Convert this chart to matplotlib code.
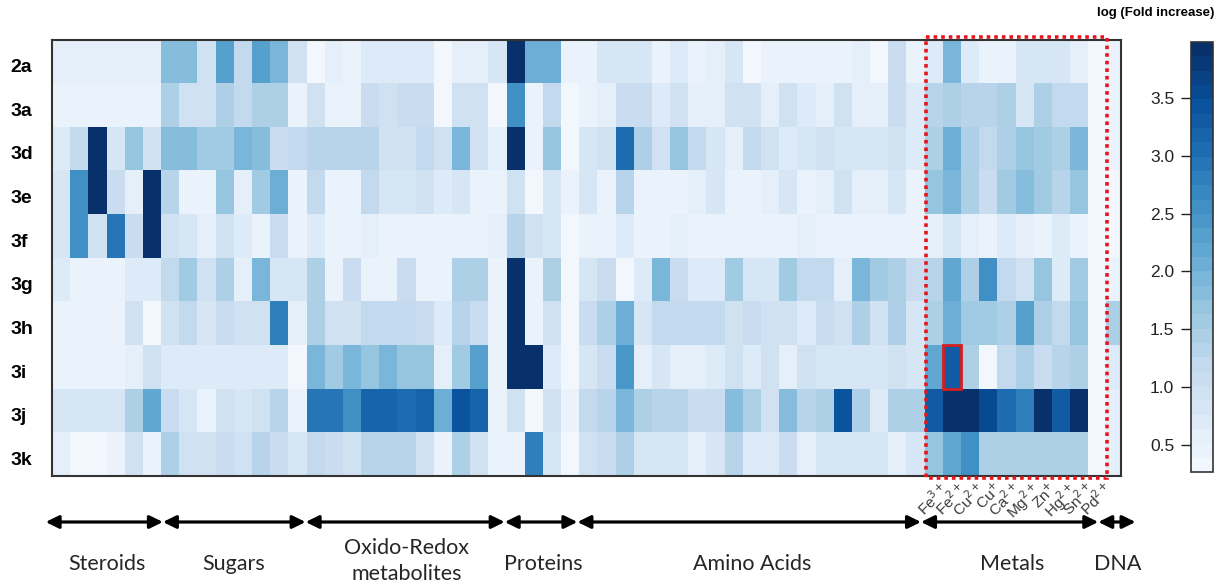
import numpy as np
import matplotlib
matplotlib.use("Agg")
import matplotlib.pyplot as plt
from matplotlib.colors import ListedColormap
from matplotlib.patches import Rectangle, FancyArrowPatch
import matplotlib.transforms as mtransforms

# ---------------- data ----------------
row_labels = ["2a", "3a", "3d", "3e", "3f", "3g", "3h", "3i", "3j", "3k"]

groups = ["Steroids", "Sugars", "Oxido-Redox\nmetabolites", "Proteins",
          "Amino Acids", "Metals", "DNA"]
group_sizes = [6, 8, 11, 4, 19, 10, 1]

metal_labels = [r"Fe$^{3+}$", r"Fe$^{2+}$", r"Cu$^{2+}$", r"Cu$^{+}$", r"Ca$^{2+}$",
                r"Mg$^{2+}$", r"Zn$^{+}$", r"Hg$^{2+}$", r"Sn$^{2+}$", r"Pd$^{2+}$"]

r_2a = [0.6, 0.6, 0.6, 0.6, 0.6, 0.6, 1.8, 1.8, 1.0, 2.3, 1.2, 2.3, 2.0, 1.0,
        0.3, 0.6, 0.4, 0.7, 0.7, 0.7, 0.7, 0.3, 0.6, 0.6, 0.8,
        3.95, 2.1, 2.1, 0.4,
        0.5, 0.8, 0.8, 0.8, 0.4, 0.7, 0.4, 0.6, 0.8, 0.3, 0.5, 0.5, 0.4, 0.4, 0.4, 0.6, 0.3, 1.1, 0.5,
        0.7, 1.9, 0.7, 0.5, 0.5, 0.8, 0.8, 0.8, 0.6, 0.3,
        0.4]
r_3a = [0.4, 0.4, 0.4, 0.4, 0.4, 0.4, 1.4, 0.9, 0.9, 1.5, 1.2, 1.4, 1.4, 0.5,
        1.0, 0.5, 0.5, 1.1, 0.9, 1.1, 1.1, 0.3, 1.0, 0.9, 0.3,
        2.5, 0.4, 1.2, 0.3,
        0.5, 0.6, 1.1, 1.1, 0.7, 0.9, 0.6, 0.6, 0.9, 0.9, 0.6, 0.9, 0.7, 0.6, 0.9, 0.6, 0.6, 1.1, 0.7,
        1.3, 1.5, 1.3, 1.3, 1.5, 0.8, 1.5, 1.2, 1.2, 0.3,
        0.4]
r_3d = [0.7, 1.2, 3.95, 0.8, 1.7, 0.9, 1.8, 1.8, 1.6, 1.6, 2.0, 1.8, 1.1, 1.2,
        1.3, 1.3, 1.3, 1.3, 1.0, 0.9, 1.2, 0.9, 1.9, 1.0, 0.6,
        3.95, 0.4, 1.7, 0.3,
        0.8, 0.9, 3.0, 1.5, 1.0, 1.7, 1.2, 0.8, 0.6, 1.2, 0.9, 0.7, 0.8, 1.0, 0.8, 0.8, 0.8, 1.0, 0.7,
        1.5, 2.1, 1.5, 1.2, 1.5, 1.7, 1.6, 1.5, 1.9, 0.3,
        0.4]
r_3e = [0.8, 2.6, 3.95, 1.1, 0.6, 3.95, 1.3, 0.5, 0.5, 1.7, 0.6, 1.6, 2.1, 0.5,
        1.2, 0.5, 0.5, 1.2, 0.8, 0.8, 0.9, 0.7, 0.8, 0.5, 0.5,
        1.0, 0.25, 0.8, 0.4,
        0.8, 0.5, 1.3, 0.5, 0.5, 0.4, 0.6, 0.8, 0.5, 0.4, 0.6, 0.8, 0.4, 0.6, 0.9, 0.6, 0.6, 0.8, 0.4,
        1.7, 1.9, 1.5, 1.1, 1.6, 1.8, 1.6, 1.3, 1.7, 0.3,
        0.3]
r_3f = [0.8, 2.5, 0.9, 2.9, 1.1, 3.95, 0.9, 0.8, 0.6, 0.9, 0.7, 0.5, 1.1, 0.5,
        0.7, 0.4, 0.4, 0.6, 0.5, 0.5, 0.5, 0.4, 0.5, 0.5, 0.6,
        1.3, 1.0, 0.8, 0.3,
        0.4, 0.4, 0.7, 0.4, 0.5, 0.6, 0.4, 0.5, 0.5, 0.4, 0.5, 0.4, 0.6, 0.4, 0.4, 0.4, 0.4, 0.4, 0.4,
        0.6, 0.8, 0.6, 0.5, 0.7, 0.6, 0.5, 0.7, 0.5, 0.3,
        0.3]
r_3g = [0.7, 0.45, 0.45, 0.45, 0.7, 0.7, 1.2, 1.6, 0.9, 1.5, 0.6, 2.0, 0.8, 0.8,
        1.4, 0.5, 1.1, 0.5, 0.5, 1.1, 0.5, 0.5, 1.4, 1.4, 0.4,
        3.95, 0.5, 1.5, 0.3,
        0.8, 1.1, 0.3, 0.7, 1.9, 1.1, 0.7, 0.7, 1.6, 0.8, 0.8, 1.6, 1.2, 1.2, 0.6, 1.9, 1.6, 1.4, 1.1,
        1.3, 2.2, 1.4, 2.6, 1.2, 0.9, 1.7, 0.7, 1.6, 0.3,
        0.5]
r_3h = [0.4, 0.4, 0.4, 0.4, 0.9, 0.3, 1.0, 1.2, 0.8, 1.1, 0.9, 0.9, 2.8, 0.6,
        1.4, 1.0, 1.0, 1.2, 1.2, 1.2, 1.1, 0.7, 1.3, 1.1, 0.4,
        3.95, 0.4, 0.9, 0.3,
        1.1, 1.4, 2.1, 0.8, 1.2, 1.2, 1.2, 1.2, 0.9, 1.1, 0.9, 0.9, 0.7, 1.1, 0.9, 1.5, 1.0, 1.5, 0.8,
        1.5, 2.1, 1.6, 1.6, 1.4, 2.3, 1.5, 1.2, 1.7, 0.3,
        1.5]
r_3i = [0.45, 0.45, 0.45, 0.45, 0.6, 0.9, 0.7, 0.7, 0.7, 0.7, 0.7, 0.7, 0.7, 0.3,
        1.9, 1.6, 1.9, 1.7, 2.0, 1.7, 1.7, 0.6, 1.6, 2.3, 0.4,
        3.95, 3.95, 0.7, 0.3,
        0.8, 1.1, 2.4, 0.6, 0.8, 0.6, 0.6, 0.7, 1.0, 0.7, 0.9, 0.6, 1.0, 0.8, 0.8, 0.8, 0.8, 0.9, 0.8,
        2.2, 3.3, 1.5, 0.3, 1.2, 1.4, 1.1, 1.3, 1.5, 0.3,
        0.7]
r_3j = [0.8, 0.8, 0.8, 0.8, 1.5, 2.2, 1.1, 0.8, 0.5, 1.0, 0.8, 1.0, 1.3, 0.4,
        2.9, 2.9, 2.6, 3.2, 3.2, 3.0, 3.2, 2.1, 3.4, 3.2, 0.4,
        1.0, 0.25, 0.9, 0.5,
        1.2, 1.3, 2.0, 1.5, 1.3, 1.3, 1.1, 1.1, 1.8, 1.4, 0.9, 1.8, 1.3, 1.5, 3.4, 1.5, 0.7, 1.5, 1.4,
        3.3, 3.95, 3.95, 3.5, 3.1, 2.8, 3.95, 3.3, 3.95, 0.3,
        0.6]
r_3k = [0.6, 0.3, 0.3, 0.5, 0.9, 0.4, 1.4, 0.9, 0.9, 1.1, 1.0, 1.3, 1.1, 0.8,
        1.2, 1.1, 0.9, 1.3, 1.3, 1.3, 1.0, 0.4, 1.5, 1.0, 0.5,
        0.4, 2.8, 0.8, 0.3,
        1.0, 1.1, 1.4, 0.8, 0.8, 0.8, 0.6, 0.8, 1.3, 0.7, 0.7, 1.1, 0.6, 0.8, 0.8, 0.8, 0.8, 0.6, 0.8,
        1.7, 2.2, 2.5, 1.5, 1.5, 1.5, 1.5, 1.5, 1.5, 0.3,
        0.6]

cbar_ticks = [0.5, 1.0, 1.5, 2.0, 2.5, 3.0, 3.5]
vmin, vmax = 0.27, 3.98

# ---------------- figure ----------------
W, H = 1215, 585
plt.rcParams["font.family"] = ["Liberation Sans", "DejaVu Sans"]
fig = plt.figure(figsize=(W / 100, H / 100), dpi=100)

data = np.array([r_2a, r_3a, r_3d, r_3e, r_3f, r_3g, r_3h, r_3i, r_3j, r_3k])
nrow, ncol = data.shape

cmap = ListedColormap(plt.get_cmap("Blues")(np.linspace(0.03, 1.0, 30)))

def px(x0, y0, x1, y1):
    return [x0 / W, 1 - y1 / H, (x1 - x0) / W, (y1 - y0) / H]

ax = fig.add_axes(px(52, 39.5, 1121, 476))
mesh = ax.pcolormesh(np.arange(ncol + 1), np.arange(nrow + 1), data,
                     cmap=cmap, vmin=vmin, vmax=vmax)
ax.set_xlim(0, 58.8)
ax.set_ylim(nrow, 0)
ax.set_xticks([])
ax.set_yticks(np.arange(nrow) + 0.6)
ax.set_yticklabels(row_labels, fontsize=14, fontweight="bold")
ax.tick_params(axis="y", length=0, pad=30)
for lab in ax.get_yticklabels():
    lab.set_horizontalalignment("left")
for s in ax.spines.values():
    s.set_color("#333333")
    s.set_linewidth(1.5)

# metal column positions
starts = np.cumsum([0] + group_sizes)
metal_start = starts[5]

# red dotted box around metals
ax.add_patch(Rectangle((metal_start + 0.05, -0.05), len(metal_labels), nrow + 0.1,
                       fill=False, edgecolor="#e8141c", linewidth=2.6,
                       linestyle=(0, (1, 1.1)), clip_on=False, zorder=5))
# red solid box around 3i / Fe2+
ax.add_patch(Rectangle((metal_start + 1, row_labels.index("3i")), 1, 1,
                       fill=False, edgecolor="#d42020", linewidth=2.0,
                       clip_on=False, zorder=6))

# metal labels
for i, lab in enumerate(metal_labels):
    ax.text(metal_start + i + 0.8, nrow + 0.08, lab, rotation=45,
            rotation_mode="anchor", ha="right", va="top", fontsize=11,
            color="#3a3a3a")

# group arrows and labels
trans = mtransforms.blended_transform_factory(ax.transData, fig.transFigure)
arrow_spans = [(-0.35, 6.1), (6.1, 13.95), (13.95, 24.9), (24.9, 28.9),
               (28.9, 47.8), (47.8, 57.55), (57.55, 59.6)]
y_arrow = 1 - 522 / H
for (a, b) in arrow_spans:
    arr = FancyArrowPatch((a, y_arrow), (b, y_arrow), transform=trans,
                          arrowstyle="<|-|>,head_length=0.65,head_width=0.32",
                          mutation_scale=12, linewidth=2.3, color="black",
                          shrinkA=0, shrinkB=0, clip_on=False)
    fig.add_artist(arr)

for g, a, b in zip(groups, starts[:-1], starts[1:]):
    cx = (a + b) / 2
    if g == "DNA":
        cx = 58.6
    if g == "Metals":
        cx = 52.8
    ypos = 1 - 561 / H if "\n" in g else 1 - 564 / H
    fig.text(cx, ypos, g, transform=trans, ha="center", va="center",
             fontsize=15.5, family="Lato", color="#262626", linespacing=1.35)

# colorbar
cax = fig.add_axes(px(1191, 42, 1213, 472))
cb = fig.colorbar(mesh, cax=cax, ticks=cbar_ticks)
cb.ax.yaxis.set_ticks_position("left")
cb.ax.tick_params(labelsize=12.5, length=7, width=1, pad=5, colors="#222222")
cb.ax.set_yticklabels([f"{t:.1f}" for t in cbar_ticks])
cb.outline.set_edgecolor("#333333")
cb.outline.set_linewidth(1.2)
fig.text(1214 / W, 1 - 13 / H, "log (Fold increase)", ha="right", va="center",
         fontsize=9.5, fontweight="bold")

fig.savefig("out.png", dpi=100)
